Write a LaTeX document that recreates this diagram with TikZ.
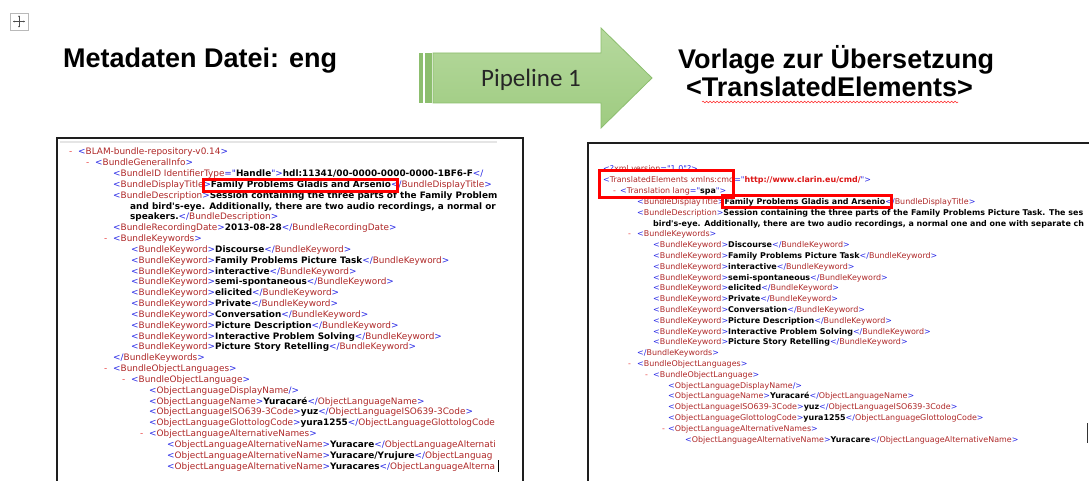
\documentclass[tikz,border=0pt]{standalone}
\usepackage{fontspec}
\setmainfont{Liberation Sans}
\newfontfamily\xmlfont{DejaVu Sans}
\newfontfamily\calfont{Carlito}
\usetikzlibrary{decorations.pathmorphing,arrows.meta}
\definecolor{xblue}{RGB}{40,40,230}
\definecolor{xtag}{RGB}{175,40,40}
\definecolor{xred}{RGB}{220,20,20}
\definecolor{xdash}{RGB}{235,70,70}
\definecolor{arrtop}{RGB}{182,217,158}
\definecolor{arrbot}{RGB}{158,203,128}
\definecolor{arrline}{RGB}{140,190,110}
\definecolor{frame}{RGB}{30,30,30}
\newcommand\xb[1]{\textcolor{xblue}{#1}}
\newcommand\xt[1]{\textcolor{xtag}{#1}}
\newcommand\xv[1]{\textbf{#1}}
\newcommand\xop[1]{\xb{<}\xt{#1}\xb{>}}
\newcommand\xcl[1]{\xb{</}\xt{#1}\xb{>}}
\newcommand\xel[2]{\xop{#1}\xv{#2}\xcl{#1}}
\newcommand\xd[1]{\makebox[#1][l]{\textcolor{xdash}{-}}}
\begin{document}
\begin{tikzpicture}[x=1pt,y=-1pt,
  xl/.style={anchor=base west, inner sep=0pt, font=\xmlfont\fontsize{8.9}{10}\selectfont},
  xr/.style={anchor=base west, inner sep=0pt, font=\xmlfont\fontsize{7.95}{9}\selectfont},
  title/.style={anchor=base west, inner sep=0pt, font=\bfseries\fontsize{27}{30}\selectfont},
  redbox/.style={draw=red, line width=3pt},
  panel/.style={draw=frame, line width=2.5pt},
]
\useasboundingbox (0,0) rectangle (1089,481);
\fill[white] (0,0) rectangle (1089,481);

% move icon
\draw[gray!55, line width=0.6pt] (10,13) rectangle (28,30);
\draw[gray!60!black, line width=0.4pt, {Stealth[length=1.6pt,width=1.8pt]}-{Stealth[length=1.6pt,width=1.8pt]}] (13,21.5) -- (25,21.5);
\draw[gray!60!black, line width=0.4pt, {Stealth[length=1.6pt,width=1.8pt]}-{Stealth[length=1.6pt,width=1.8pt]}] (19,15.5) -- (19,27.5);

% titles
\node[title] (t1) at (63,68) {Metadaten Datei: eng};
\node[title] (t2) at (678,69) {Vorlage zur Übersetzung};
\node[title] (t3) at (686,97) {<TranslatedElements>};
\draw[red!85, line width=0.5pt, decorate, decoration={snake, amplitude=0.8pt, segment length=3.5pt}] (702,102) -- (958,102);

% arrow
\fill[arrline] (419,53) rectangle (423,103);
\fill[arrline] (425,53) rectangle (432,103);
\shade[top color=arrtop, bottom color=arrbot]
  (433,53) -- (601,53) -- (601,28) -- (652,78) -- (601,128) -- (601,103) -- (433,103) -- cycle;
\draw[arrline, line width=0.8pt] (433,53) -- (601,53) -- (601,28) -- (652,78) -- (601,128) -- (601,103) -- (433,103) -- cycle;
\node[anchor=base, inner sep=0pt, font=\calfont\fontsize{25}{28}\selectfont, text=black!85] (pl) at (531,87) {Pipeline 1};

% left panel
\draw[panel] (57,481) -- (57,138) -- (523,138) -- (523,481);
\draw[gray!20, line width=2pt] (60,142.5) -- (497,142.5);
\begin{scope}
\clip (59,140) rectangle (500,481);
\node[xl] (a0) at (69,155) {\xd{9pt}\xop{BLAM-bundle-repository-v0.14}};
\node[xl] (a1) at (86,{155+1*10.83}) {\xd{9pt}\xop{BundleGeneralInfo}};
\node[xl] (a2) at (113,{155+2*10.83}) {\xb{<}\xt{BundleID IdentifierType}\xb{="}\xv{Handle}\xb{">}\xv{hdl:11341/00-0000-0000-0000-1BF6-F}\xb{</}};
\node[xl] (a3) at (113,{155+3*10.83}) {\xel{BundleDisplayTitle}{Family Problems Gladis and Arsenio}};
\node[xl] (a4) at (113,{155+4*10.83}) {\xop{BundleDescription}\xv{Session containing the three parts of the Family Problem}};
\node[xl] (a5) at (130,{155+5*10.83}) {\xv{and bird\textquotesingle s-eye. Additionally, there are two audio recordings, a normal or}};
\node[xl] (a6) at (130,{155+6*10.83}) {\xv{speakers.}\xcl{BundleDescription}};
\node[xl] (a7) at (113,{155+7*10.83}) {\xel{BundleRecordingDate}{2013-08-28}};
\node[xl] (a8) at (104,{155+8*10.83}) {\xd{9pt}\xop{BundleKeywords}};
\node[xl] (a9) at (131,{155+9*10.83}) {\xel{BundleKeyword}{Discourse}};
\node[xl] (a10) at (131,{155+10*10.83}) {\xel{BundleKeyword}{Family Problems Picture Task}};
\node[xl] (a11) at (131,{155+11*10.83}) {\xel{BundleKeyword}{interactive}};
\node[xl] (a12) at (131,{155+12*10.83}) {\xel{BundleKeyword}{semi-spontaneous}};
\node[xl] (a13) at (131,{155+13*10.83}) {\xel{BundleKeyword}{elicited}};
\node[xl] (a14) at (131,{155+14*10.83}) {\xel{BundleKeyword}{Private}};
\node[xl] (a15) at (131,{155+15*10.83}) {\xel{BundleKeyword}{Conversation}};
\node[xl] (a16) at (131,{155+16*10.83}) {\xel{BundleKeyword}{Picture Description}};
\node[xl] (a17) at (131,{155+17*10.83}) {\xel{BundleKeyword}{Interactive Problem Solving}};
\node[xl] (a18) at (131,{155+18*10.83}) {\xel{BundleKeyword}{Picture Story Retelling}};
\node[xl] (a19) at (113,{155+19*10.83}) {\xcl{BundleKeywords}};
\node[xl] (a20) at (104,{155+20*10.83}) {\xd{9pt}\xop{BundleObjectLanguages}};
\node[xl] (a21) at (122,{155+21*10.83}) {\xd{9pt}\xop{BundleObjectLanguage}};
\node[xl] (a22) at (149,{155+22*10.83}) {\xb{<}\xt{ObjectLanguageDisplayName}\xb{/>}};
\node[xl] (a23) at (149,{155+23*10.83}) {\xel{ObjectLanguageName}{Yuracaré}};
\node[xl] (a24) at (149,{155+24*10.83}) {\xel{ObjectLanguageISO639-3Code}{yuz}};
\node[xl] (a25) at (149,{155+25*10.83}) {\xop{ObjectLanguageGlottologCode}\xv{yura1255}\xb{</}\xt{ObjectLanguageGlottologCode}};
\node[xl] (a26) at (140,{155+26*10.83}) {\xd{9pt}\xop{ObjectLanguageAlternativeNames}};
\node[xl] (a27) at (167,{155+27*10.83}) {\xop{ObjectLanguageAlternativeName}\xv{Yuracare}\xb{</}\xt{ObjectLanguageAlternati}};
\node[xl] (a28) at (167,{155+28*10.83}) {\xop{ObjectLanguageAlternativeName}\xv{Yuracare/Yrujure}\xb{</}\xt{ObjectLanguag}};
\node[xl] (a29) at (167,{155+29*10.83}) {\xop{ObjectLanguageAlternativeName}\xv{Yuracares}\xb{</}\xt{ObjectLanguageAlterna}};
\end{scope}
\draw[black, line width=0.8pt] (498.5,460) -- (498.5,472);
\draw[redbox] (203,180) rectangle (397,192);

% right panel
\draw[panel] (588,481) -- (588,143) -- (1089,143);
\begin{scope}
\clip (590,145) rectangle (1089,481);
\node[xr] (b0) at (603,172) {\xb{<?}\xt{xml version}\xb{="1.0"?>}};
\node[xr] (b1) at (603,{172+1*10.8}) {\xb{<}\xt{TranslatedElements xmlns:cmd}\xb{="}\textcolor{xred}{\textbf{http://www.clarin.eu/cmd/}}\xb{">}};
\node[xr] (b2) at (613,{172+2*10.8}) {\xd{7pt}\xb{<}\xt{Translation lang}\xb{="}\xv{spa}\xb{">}};
\node[xr] (b3) at (637,{172+3*10.8}) {\xel{BundleDisplayTitle}{Family Problems Gladis and Arsenio}};
\node[xr] (b4) at (637,{172+4*10.8}) {\xop{BundleDescription}\xv{Session containing the three parts of the Family Problems Picture Task. The ses}};
\node[xr] (b5) at (653,{172+5*10.8}) {\xv{bird\textquotesingle s-eye. Additionally, there are two audio recordings, a normal one and one with separate ch}};
\node[xr] (b6) at (628,{172+6*10.8}) {\xd{9pt}\xop{BundleKeywords}};
\node[xr] (b7) at (653,{172+7*10.8}) {\xel{BundleKeyword}{Discourse}};
\node[xr] (b8) at (653,{172+8*10.8}) {\xel{BundleKeyword}{Family Problems Picture Task}};
\node[xr] (b9) at (653,{172+9*10.8}) {\xel{BundleKeyword}{interactive}};
\node[xr] (b10) at (653,{172+10*10.8}) {\xel{BundleKeyword}{semi-spontaneous}};
\node[xr] (b11) at (653,{172+11*10.8}) {\xel{BundleKeyword}{elicited}};
\node[xr] (b12) at (653,{172+12*10.8}) {\xel{BundleKeyword}{Private}};
\node[xr] (b13) at (653,{172+13*10.8}) {\xel{BundleKeyword}{Conversation}};
\node[xr] (b14) at (653,{172+14*10.8}) {\xel{BundleKeyword}{Picture Description}};
\node[xr] (b15) at (653,{172+15*10.8}) {\xel{BundleKeyword}{Interactive Problem Solving}};
\node[xr] (b16) at (653,{172+16*10.8}) {\xel{BundleKeyword}{Picture Story Retelling}};
\node[xr] (b17) at (637,{172+17*10.8}) {\xcl{BundleKeywords}};
\node[xr] (b18) at (628,{172+18*10.8}) {\xd{9pt}\xop{BundleObjectLanguages}};
\node[xr] (b19) at (645,{172+19*10.8}) {\xd{8pt}\xop{BundleObjectLanguage}};
\node[xr] (b20) at (668,{172+20*10.8}) {\xb{<}\xt{ObjectLanguageDisplayName}\xb{/>}};
\node[xr] (b21) at (668,{172+21*10.8}) {\xel{ObjectLanguageName}{Yuracaré}};
\node[xr] (b22) at (668,{172+22*10.8}) {\xel{ObjectLanguageISO639-3Code}{yuz}};
\node[xr] (b23) at (668,{172+23*10.8}) {\xel{ObjectLanguageGlottologCode}{yura1255}};
\node[xr] (b24) at (662,{172+24*10.8}) {\xd{6pt}\xop{ObjectLanguageAlternativeNames}};
\node[xr] (b25) at (685,{172+25*10.8}) {\xel{ObjectLanguageAlternativeName}{Yuracare}};
\end{scope}
\draw[black!80, line width=1pt] (1087.5,423) -- (1087.5,443);
\draw[redbox] (599,171) rectangle (733,198);
\draw[redbox] (722,196) rectangle (891,208);
\end{tikzpicture}
\end{document}
